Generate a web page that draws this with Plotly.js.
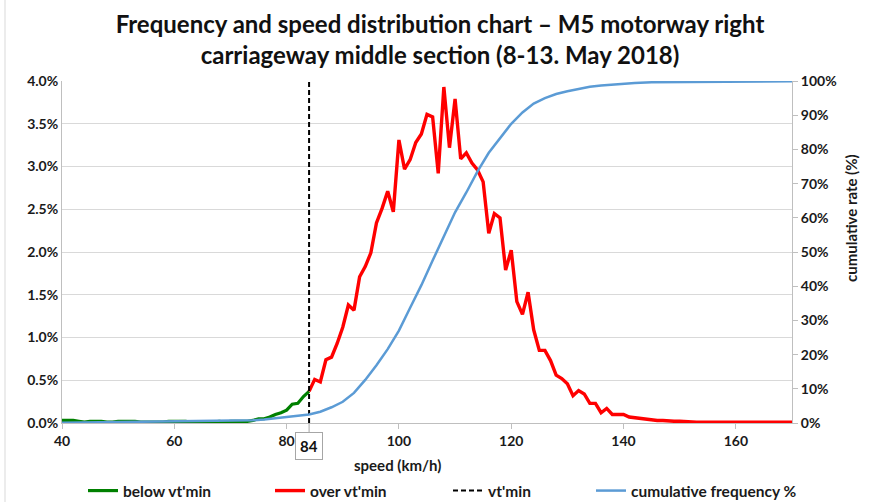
<!DOCTYPE html>
<html>
<head>
<meta charset="utf-8">
<script src="https://cdn.plot.ly/plotly-3.0.1.min.js"></script>
<style>html,body{margin:0;padding:0;background:#fff;}#chart{width:871px;height:502px;}</style>
</head>
<body>
<div id="chart"></div>
<script>
// ---- data ----
const titleText = "Frequency and speed distribution chart – M5 motorway right<br>carriageway middle section (8-13. May 2018)";
const xTitle = "speed (km/h)";
const y2Title = "cumulative rate (%)";
const vtMin = 84;

const speedBelow = [40,41,42,43,44,45,46,47,48,49,50,51,52,53,54,55,56,57,58,59,60,61,62,63,64,65,66,67,68,69,70,71,72,73,74,75,76,77,78,79,80,81,82,83,84];
const freqBelow  = [0.03,0.03,0.03,0.02,0.01,0.02,0.02,0.02,0.01,0.01,0.02,0.02,0.02,0.02,0.01,0.01,0.01,0.01,0.01,0.02,0.02,0.02,0.02,0.01,0.01,0.01,0.01,0.01,0.02,0.01,0.02,0.02,0.02,0.02,0.03,0.05,0.05,0.07,0.10,0.12,0.15,0.22,0.23,0.31,0.37];

const speedOver = [84,85,86,87,88,89,90,91,92,93,94,95,96,97,98,99,100,101,102,103,104,105,106,107,108,109,110,111,112,113,114,115,116,117,118,119,120,121,122,123,124,125,126,127,128,129,130,131,132,133,134,135,136,137,138,139,140,141,142,143,144,145,146,147,148,149,150,151,152,153,154,155,156,157,158,159,160,161,162,163,164,165,166,167,168,169,170];
const freqOver  = [0.37,0.51,0.48,0.74,0.77,0.93,1.12,1.38,1.32,1.71,1.83,1.99,2.34,2.51,2.71,2.47,3.31,2.97,3.08,3.28,3.38,3.61,3.58,2.92,3.93,3.22,3.79,3.09,3.16,3.04,2.96,2.82,2.22,2.45,2.40,1.79,2.02,1.42,1.27,1.53,1.09,0.85,0.85,0.73,0.56,0.52,0.46,0.32,0.38,0.34,0.23,0.23,0.12,0.17,0.10,0.10,0.10,0.07,0.06,0.05,0.04,0.04,0.03,0.03,0.02,0.02,0.02,0.015,0.01,0.01,0.01,0.01,0.005,0.005,0.005,0.005,0.005,0.005,0.01,0.005,0.005,0.005,0.01,0.01,0.01,0.01,0.01];

const speedCum = [40,45,50,55,60,65,70,74,76,78,80,82,84,86,88,90,92,94,96,98,100,102,104,106,108,110,112,114,116,118,120,122,124,126,128,130,132,134,136,138,140,142,145,150,155,160,165,170];
const cumPct   = [0.05,0.15,0.25,0.35,0.45,0.55,0.65,0.8,1.0,1.35,1.75,2.1,2.5,3.3,4.6,6.2,8.8,12.6,16.9,21.6,27.0,33.7,40.3,47.5,54.6,61.6,67.4,73.6,79.0,83.2,87.5,90.8,93.4,95.0,96.2,97.0,97.7,98.3,98.7,99.0,99.2,99.4,99.6,99.7,99.7,99.8,99.8,99.9];

const vtLineX = [vtMin, vtMin];
const vtLineY = [0, 4];

const xTicks = [40,60,80,100,120,140,160];
const seriesNames = ["below vt'min", "over vt'min", "vt'min", "cumulative frequency %"];

// ---- chart ----
const FONT = 'Lato, "Open Sans", sans-serif';
const traces = [
  {x: speedBelow, y: freqBelow, type:'scatter', mode:'lines', name: seriesNames[0],
   line:{color:'#008000', width:3.2}, legendwidth:142},
  {x: speedOver, y: freqOver, type:'scatter', mode:'lines', name: seriesNames[1],
   line:{color:'#FF0000', width:3.4}, legendwidth:133},
  {x: vtLineX, y: vtLineY, type:'scatter', mode:'lines', name: seriesNames[2],
   line:{color:'#000000', width:2, dash:'5px,3px'}, legendwidth:98},
  {x: speedCum, y: cumPct, type:'scatter', mode:'lines', name: seriesNames[3], yaxis:'y2',
   line:{color:'#5B9BD5', width:2.5}}
];

const tickFont = {family: FONT, size: 14, color:'#1a1a1a', weight:'bold'};
const axTitleFont = {family: FONT, size:15, color:'#1a1a1a', weight:'bold'};

const layout = {
  width: 871, height: 502,
  paper_bgcolor:'#fff', plot_bgcolor:'#fff',
  margin:{l:62, r:79, t:81, b:79, pad:0},
  font:{family: FONT, color:'#1a1a1a'},
  title:{text: titleText, font:{family: FONT, size: 24, color:'#111', weight:'bold'},
         x: 440/871, xanchor:'center', xref:'container', y: 1-33/502, yanchor:'middle', yref:'container'},
  showlegend: true,
  legend:{orientation:'h', xref:'container', yref:'container', x: 83/871, xanchor:'left',
          y: 1-491/502, yanchor:'middle', font:{family: FONT, size:15.5, color:'#1a1a1a', weight:'bold'},
          bgcolor:'rgba(0,0,0,0)', tracegroupgap:0},
  xaxis:{range:[40,170], tickmode:'array', tickvals: xTicks, ticktext: xTicks.map(String),
         showgrid:false, zeroline:false, showline:true, linecolor:'#BFBFBF', linewidth:1,
         ticks:'outside', ticklen:5, tickcolor:'#BFBFBF', tickfont: tickFont},
  yaxis:{range:[0,4], dtick:0.5, tick0:0, tickformat:'.1f', ticksuffix:'%',
         showgrid:true, gridcolor:'#D9D9D9', gridwidth:1, zeroline:false,
         showline:true, linecolor:'#BFBFBF', linewidth:1, ticks:'', tickfont: tickFont},
  yaxis2:{range:[0,100], dtick:10, tick0:0, ticksuffix:'%', overlaying:'y', side:'right',
          showgrid:false, zeroline:false, showline:true, linecolor:'#BFBFBF', linewidth:1,
          ticks:'outside', ticklen:5, tickcolor:'#BFBFBF', tickfont: tickFont},
  shapes:[
    {type:'line', xref:'paper', yref:'paper', x0:(5-62)/730, x1:(5-62)/730,
     y0:(423-502)/342, y1:(423-0)/342, line:{color:'#D9D9D9', width:1}}
  ],
  annotations:[
    {x: vtMin, y: 0, xref:'x', yref:'y', text: String(vtMin), showarrow:true, arrowhead:0,
     arrowwidth:1, arrowcolor:'#A6A6A6', ax:0, ay:23, bordercolor:'#A6A6A6', borderwidth:1,
     borderpad:4, bgcolor:'#fff', font:{family: FONT, size:15, color:'#111', weight:'bold'}},
    {text: xTitle, xref:'paper', yref:'paper', x:(397-62)/730, y:(423-465)/342,
     xanchor:'center', yanchor:'middle', showarrow:false, font: axTitleFont},
    {text: y2Title, xref:'paper', yref:'paper', x:(851-62)/730, y:(423-218)/342,
     xanchor:'center', yanchor:'middle', showarrow:false, textangle:-90, font: axTitleFont}
  ]
};

Plotly.newPlot('chart', traces, layout, {displayModeBar:false, staticPlot:true});
</script>
</body>
</html>
